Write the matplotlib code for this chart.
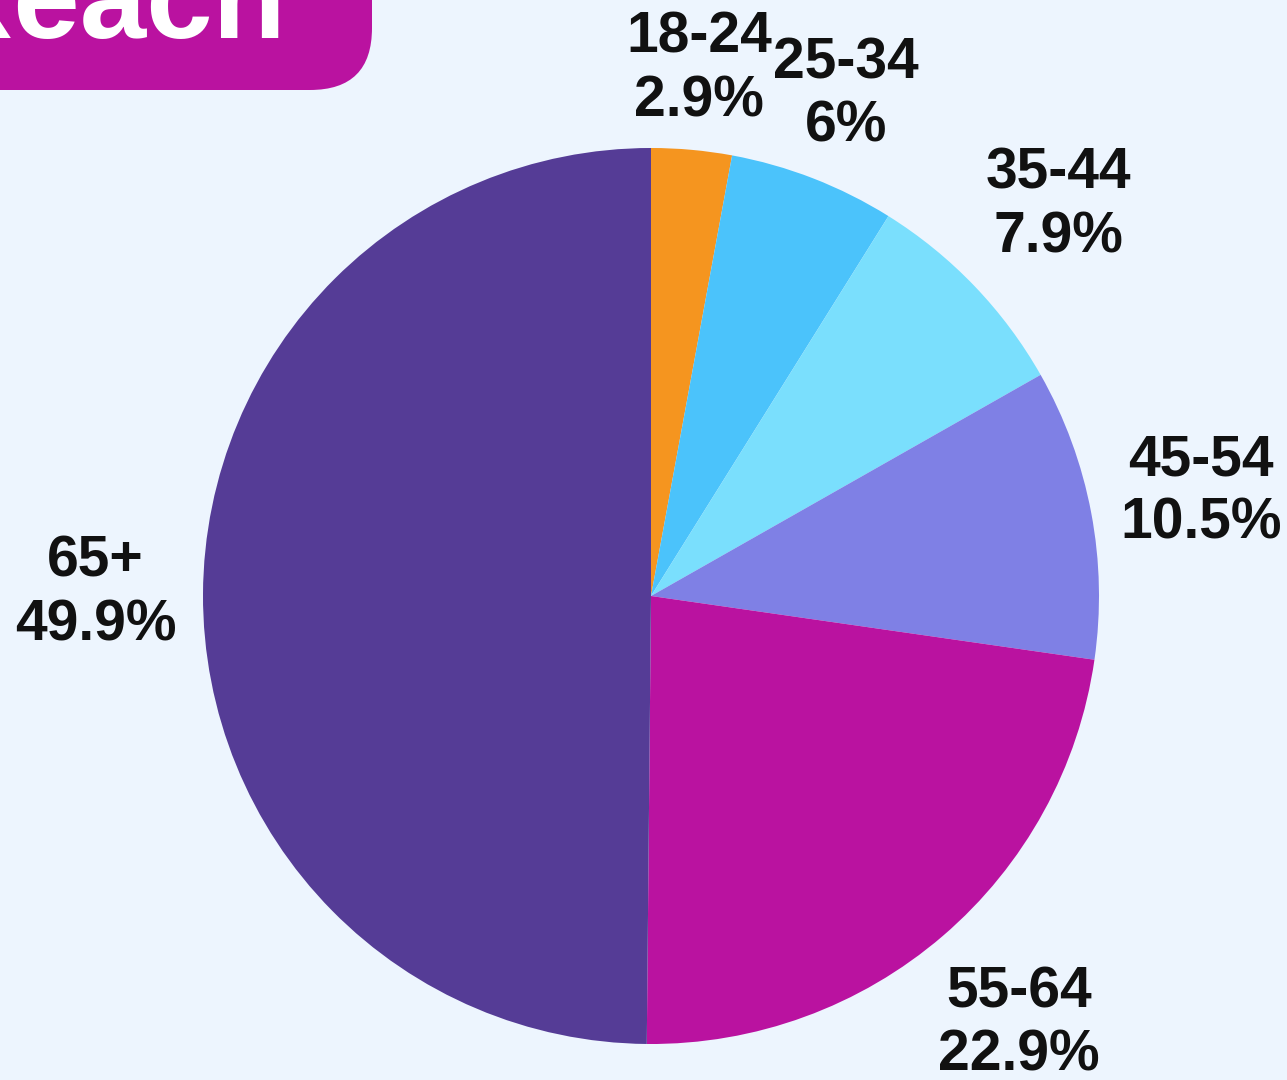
import numpy as np
import matplotlib
matplotlib.use("Agg")
import matplotlib.pyplot as plt
from matplotlib.patches import FancyBboxPatch

plt.rcParams['font.family'] = ['Liberation Sans', 'DejaVu Sans']

ages = ["18-24", "25-34", "35-44", "45-54", "55-64", "65+"]
shares = [2.9, 6, 7.9, 10.5, 22.9, 49.9]
colors = ["#F5951F", "#4BC3FB", "#7ADFFD", "#7F80E5", "#BA12A0", "#553C96"]
label_dist = [1.18, 1.20, 1.26, 1.25, 1.26, 1.24]

BG = "#EDF5FE"
W, H = 1287, 1080

fig = plt.figure(figsize=(W / 100, H / 100), dpi=100, facecolor=BG)
ax = fig.add_axes([0, 0, 1, 1])

cx, cy, R = 651, 484, 448
wedges, _ = ax.pie(shares, colors=colors, startangle=90, counterclock=False,
                   center=(cx, cy), radius=R, frame=True,
                   wedgeprops=dict(linewidth=0))
ax.set_xlim(0, W)
ax.set_ylim(0, H)
ax.set_aspect("equal")
ax.axis("off")

for w, age, val, d in zip(wedges, ages, shares, label_dist):
    ang = np.deg2rad((w.theta1 + w.theta2) / 2)
    x = cx + R * d * np.cos(ang)
    y = cy + R * d * np.sin(ang)
    ax.text(x, y, f"{age}\n{val:g}%", ha="center", va="center",
            fontsize=41, fontweight="bold", color="#111111", linespacing=1.22)

# title badge, cut by the top edge
badge = FancyBboxPatch((-80, 990), 452, 200,
                       boxstyle="round,pad=0,rounding_size=62",
                       facecolor="#BA12A0", edgecolor="none")
ax.add_patch(badge)
ax.text(286, 1042, "Reach", ha="right", va="baseline", fontsize=86,
        fontweight="bold", color="white")

fig.savefig("out.png", dpi=100, facecolor=BG)
